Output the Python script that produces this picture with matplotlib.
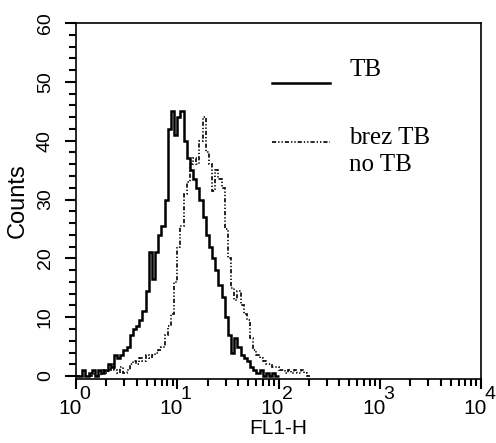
import numpy as np
import matplotlib
matplotlib.use("Agg")
import matplotlib.pyplot as plt

# ---- data (histogram counts per channel, 32 channels per decade, starting at 10^0)
channels_per_decade = 32
tb_counts = [0, 0, 1, 0, 0.5, 1, 0, 1, 0.5, 1,
             2, 1.5, 3.5, 3, 3.5, 4.5, 5, 7, 8, 8.5,
             9.5, 11, 14.5, 21, 16.5, 21, 24, 25.5, 30, 42,
             45, 41, 44, 45, 40, 37, 35, 33.5, 32, 30,
             27, 24, 22, 20, 18, 15.5, 13.5, 10, 7, 4,
             6.5, 5, 3.5, 3, 2.5, 1.5, 1, 0.5, 1, 0,
             0.5, 0, 0.5, 0]
notb_counts = [0, 0, 0, 0, 0, 0.5, 0, 0, 1, 0.5,
               1, 2, 1, 0.5, 1.5, 0.5, 1, 2, 2.5, 2,
               3, 2.5, 3.5, 3, 3.5, 4, 4.5, 5, 7, 8.5,
               10.5, 16, 22, 25.5, 31, 33, 36, 37, 36, 40,
               44, 38, 36, 31.5, 35, 33.5, 32, 25, 20, 15,
               13, 14.5, 12, 10.5, 9.5, 6.5, 4.5, 3.5, 3, 2.5,
               2, 2, 1.5, 1.5, 1, 1, 0.5, 1, 0.5, 1,
               0.5, 1, 0.5, 0]
decades = [0, 1, 2, 3, 4]
y_major = [0, 10, 20, 30, 40, 50, 60]
legend_labels = ["TB", "brez TB\nno TB"]
x_label = "FL1-H"
y_label = "Counts"

plt.rcParams['font.family'] = ['Liberation Sans', 'DejaVu Sans']

fig = plt.figure(figsize=(4.96, 4.43), dpi=100)
ax = fig.add_axes([76/496, 64/443, 405/496, 356/443])

def edges(n):
    return 10 ** (np.arange(n + 1) / channels_per_decade)

dash = (0, (2.5, 1.2, 0.8, 1.2, 0.8, 1.2))
ax.stairs(tb_counts, edges(len(tb_counts)), color='black', linewidth=1.8)
ax.stairs(notb_counts, edges(len(notb_counts)), color='black', linewidth=1.2,
          linestyle=dash)

ax.set_xscale('log')
ax.set_xlim(10 ** decades[0], 10 ** decades[-1])
ax.set_ylim(-0.5, 60)

for s in ax.spines.values():
    s.set_linewidth(1.2)

# y ticks
ax.set_yticks(y_major)
ax.set_yticks(np.arange(0, 61, 2), minor=True)
ax.tick_params(axis='y', which='major', direction='out', length=8, width=1.5, pad=8,
               labelsize=14, labelrotation=90)
ax.tick_params(axis='y', which='minor', direction='out', length=5, width=1.5)
for lbl in ax.get_yticklabels():
    lbl.set_va('center')

# x ticks
ax.set_xticks([10 ** d for d in decades])
ax.xaxis.set_minor_locator(matplotlib.ticker.LogLocator(base=10, subs=np.arange(2, 10)))
ax.xaxis.set_minor_formatter(matplotlib.ticker.NullFormatter())
ax.set_xticklabels([])
ax.tick_params(axis='x', which='major', direction='out', length=7, width=1.5)
ax.tick_params(axis='x', which='minor', direction='out', length=5, width=1.5)
for d in decades:
    ax.annotate("10", xy=(10 ** d, 0), xycoords=('data', 'axes fraction'),
                xytext=(-6, -20), textcoords='offset pixels', ha='center', va='top',
                fontsize=15)
    ax.annotate(str(d), xy=(10 ** d, 0), xycoords=('data', 'axes fraction'),
                xytext=(9, -7), textcoords='offset pixels', ha='center', va='top',
                fontsize=14)

ax.set_xlabel(x_label, fontsize=15, labelpad=18)
ax.set_ylabel(y_label, fontsize=17, labelpad=6)

# legend drawn by hand
ax.plot([0.484, 0.627], [0.831, 0.831], transform=ax.transAxes, color='black', lw=1.8)
ax.plot([0.484, 0.627], [0.666, 0.666], transform=ax.transAxes, color='black', lw=1.2,
        linestyle=dash)
ax.text(0.675, 0.868, legend_labels[0], transform=ax.transAxes, fontsize=18,
        family=['Liberation Serif'], va='center', ha='left')
ax.text(0.675, 0.638, legend_labels[1], transform=ax.transAxes, fontsize=18,
        family=['Liberation Serif'], va='center', ha='left', linespacing=1.3)

fig.savefig("out.png", dpi=100)
